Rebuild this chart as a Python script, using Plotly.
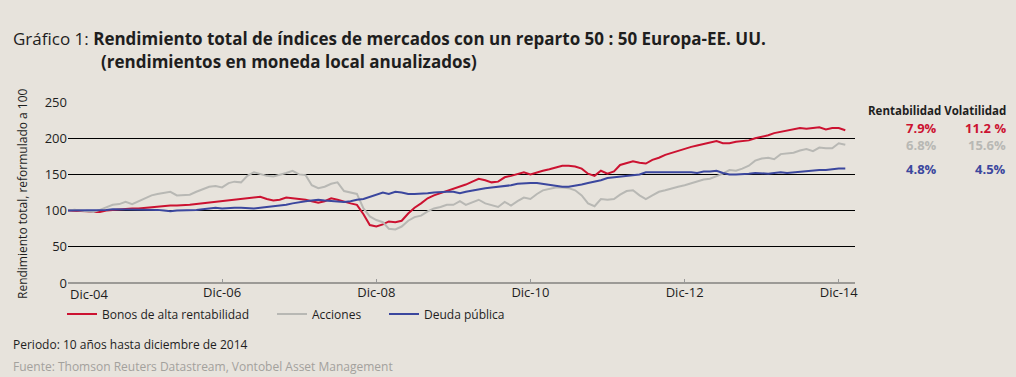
import pandas as pd
import plotly.graph_objects as go

# ---- data ----
dates = pd.date_range("2004-12-31", periods=122, freq="ME")

bonos = [100, 100, 99, 99, 98, 98, 100, 101, 102, 102, 103, 103, 104, 105, 106, 106, 107, 107, 108, 108,
         109, 110, 111, 112, 113, 115, 116, 117, 118, 119, 119, 116, 114, 115, 118, 117, 116, 115, 113, 111,
         113, 117, 115, 112, 110, 108, 95, 80, 78, 81, 85, 84, 86, 96, 104, 110, 117, 121, 124, 128,
         131, 134, 136, 140, 144, 142, 139, 140, 146, 148, 151, 153, 150, 153, 155, 157, 159, 162, 162, 161,
         158, 151, 148, 155, 151, 154, 163, 166, 168, 166, 165, 170, 173, 177, 180, 182, 185, 188, 190, 192,
         194, 196, 193, 193, 195, 196, 197, 200, 202, 204, 207, 209, 211, 212, 214, 213, 214, 215, 212, 214,
         214, 211]

acciones = [100, 101, 100, 99, 98, 101, 104, 108, 109, 112, 109, 113, 117, 121, 123, 124, 126, 121, 121, 122,
            126, 129, 133, 134, 132, 138, 140, 139, 148, 153, 151, 148, 147, 149, 152, 155, 150, 149, 135, 131,
            133, 137, 139, 127, 125, 123, 103, 92, 87, 84, 75, 74, 78, 86, 91, 93, 99, 103, 105, 108,
            108, 113, 108, 112, 115, 110, 108, 105, 112, 107, 113, 118, 116, 123, 128, 130, 132, 132, 131, 128,
            121, 110, 106, 116, 115, 116, 122, 127, 128, 121, 116, 121, 126, 128, 131, 133, 135, 138, 141, 143,
            144, 147, 151, 156, 155, 158, 162, 169, 172, 173, 171, 178, 179, 180, 183, 185, 182, 187, 186, 186,
            193, 191]

deuda = [100, 100, 100, 100, 100, 100, 101, 102, 102, 102, 102, 101, 101, 101, 101, 100, 99, 100, 100, 101,
         101, 102, 103, 104, 103, 104, 104, 104, 103, 103, 104, 105, 107, 108, 108, 110, 112, 113, 114, 115,
         114, 113, 112, 112, 113, 115, 116, 119, 122, 125, 123, 126, 125, 123, 123, 123, 124, 125, 126, 126,
         126, 124, 126, 128, 129, 131, 132, 133, 134, 135, 137, 138, 138, 138, 137, 135, 134, 133, 133, 134,
         136, 138, 140, 142, 145, 146, 147, 148, 149, 150, 153, 153, 153, 153, 153, 153, 154, 153, 152, 154,
         154, 155, 152, 150, 150, 150, 151, 152, 151, 151, 152, 153, 152, 153, 154, 155, 155, 156, 156, 157,
         158, 158]

series_names = ["Bonos de alta rentabilidad", "Acciones", "Deuda pública"]
series_values = [bonos, acciones, deuda]
series_colors = ["#cc1231", "#b8b8b4", "#3b479e"]

tick_dates = ["2004-12-31", "2006-12-31", "2008-12-31", "2010-12-31", "2012-12-31", "2014-12-31"]
tick_labels = ["Dic-04", "Dic-06", "Dic-08", "Dic-10", "Dic-12", "Dic-14"]

rentabilidad = ["7.9%", "6.8%", "4.8%"]
volatilidad = ["11.2 %", "15.6%", "4.5%"]

# ---- figure ----
FONT = "Open Sans"
BG = "#e7e3dc"
DARK = "#1e1e1e"

L, R, T, B = 68, 161, 102, 94
W, H = 1016, 377
pw, ph = W - L - R, H - T - B

def px_x(px):
    return (px - L) / pw

def px_y(py):
    return (H - B - py) / ph

legend_ids = ["legend", "legend2", "legend3"]
legend_left_px = [62, 272, 384]

fig = go.Figure()
for name, vals, col, lg in zip(series_names, series_values, series_colors, legend_ids):
    fig.add_trace(go.Scatter(x=dates, y=vals, mode="lines", name=name, legend=lg,
                             line=dict(color=col, width=2)))

legend_common = dict(orientation="h", y=px_y(314), xanchor="left", yanchor="middle",
                     font=dict(size=12, color=DARK), bgcolor="rgba(0,0,0,0)", itemwidth=30)

# x tick labels: first label is drawn inside the plot edge as in the reference
tick_text_shown = [""] + tick_labels[1:]

fig.update_layout(
    width=W, height=H,
    paper_bgcolor=BG, plot_bgcolor=BG,
    margin=dict(l=L, r=R, t=T, b=B),
    font=dict(family=FONT, color=DARK, size=12),
    showlegend=True,
    legend=dict(x=px_x(legend_left_px[0]), **legend_common),
    legend2=dict(x=px_x(legend_left_px[1]), **legend_common),
    legend3=dict(x=px_x(legend_left_px[2]), **legend_common),
    xaxis=dict(range=["2004-12-31", "2015-03-18"], tickvals=tick_dates, ticktext=tick_text_shown,
               showgrid=False, zeroline=False, showline=False,
               ticks="inside", ticklen=4, tickcolor="#999999", tickwidth=1,
               tickfont=dict(size=13, color=DARK)),
    yaxis=dict(range=[0, 250], tickvals=[0, 50, 100, 150, 200, 250],
               showgrid=True, gridcolor="#000000", gridwidth=1,
               zeroline=True, zerolinecolor="#9c9a96", zerolinewidth=2,
               showline=False, ticks="", tickfont=dict(size=13, color=DARK)),
)

ann = []
# first x tick label (kept inside the plot edge)
ann.append(dict(text=tick_labels[0], x=tick_dates[0], xref="x", y=px_y(294), yref="paper",
                xanchor="left", yanchor="middle", showarrow=False, font=dict(size=13, color=DARK)))
# title
ann.append(dict(text="Gráfico 1: <b>Rendimiento total de índices de mercados con un reparto 50 : 50 Europa-EE. UU.</b>",
                x=px_x(11), y=px_y(38), xanchor="left", yanchor="middle", showarrow=False,
                xref="paper", yref="paper", font=dict(size=17, color=DARK)))
ann.append(dict(text="<b>(rendimientos en moneda local anualizados)</b>",
                x=px_x(99), y=px_y(61), xanchor="left", yanchor="middle", showarrow=False,
                xref="paper", yref="paper", font=dict(size=17, color=DARK)))
# y-axis title
ann.append(dict(text="Rendimiento total, reformulado a 100", textangle=-90,
                x=px_x(22), y=px_y(194), xanchor="center", yanchor="middle", showarrow=False,
                xref="paper", yref="paper", font=dict(size=12, color=DARK)))
# table header
ann.append(dict(text="<b>Rentabilidad Volatilidad</b>", x=px_x(1008), y=px_y(110),
                xref="paper", yref="paper",
                xanchor="right", yanchor="middle", showarrow=False, font=dict(size=11.5, color=DARK)))
row_y = [128, 145, 169]
for r, v, col, yy in zip(rentabilidad, volatilidad, series_colors, row_y):
    ann.append(dict(text=f"<b>{r}</b>", x=px_x(939), y=px_y(yy), xanchor="right", yanchor="middle",
                    xref="paper", yref="paper", showarrow=False, font=dict(size=13, color=col)))
    ann.append(dict(text=f"<b>{v}</b>", x=px_x(1008), y=px_y(yy), xanchor="right", yanchor="middle",
                    xref="paper", yref="paper", showarrow=False, font=dict(size=13, color=col)))
# footer
ann.append(dict(text="Periodo: 10 años hasta diciembre de 2014", x=px_x(11), y=px_y(344),
                xref="paper", yref="paper",
                xanchor="left", yanchor="middle", showarrow=False, font=dict(size=12, color=DARK)))
ann.append(dict(text="Fuente: Thomson Reuters Datastream, Vontobel Asset Management", x=px_x(11), y=px_y(366),
                xref="paper", yref="paper",
                xanchor="left", yanchor="middle", showarrow=False, font=dict(size=12, color="#a3a19c")))
fig.update_layout(annotations=ann)

fig.write_html("out.html", config={"displayModeBar": False},
               post_script="document.body.style.margin='0';document.body.style.overflow='hidden';"
                           "document.body.style.background='" + BG + "';")
